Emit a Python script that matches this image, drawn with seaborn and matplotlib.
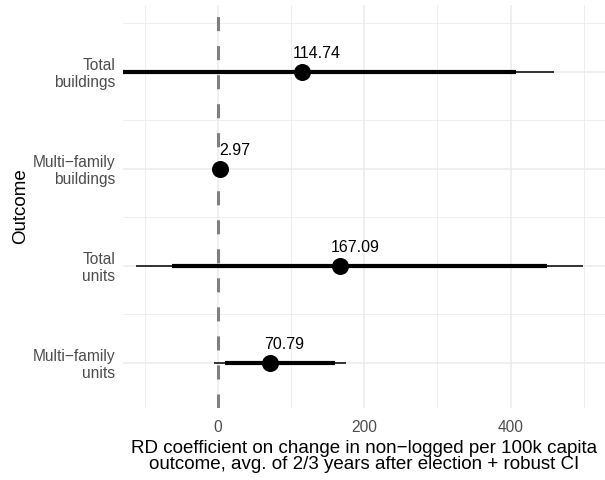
import numpy as np
import pandas as pd
import matplotlib
matplotlib.use("Agg")
import matplotlib.pyplot as plt
import seaborn as sns
from matplotlib.ticker import FixedLocator

# RD estimates with robust confidence intervals (90% thick, 95% thin)
outcomes = ["Total\nbuildings", "Multi\u2212family\nbuildings",
            "Total\nunits", "Multi\u2212family\nunits"]
estimates = [114.74, 2.97, 167.09, 70.79]
ci90_low = [-135.0, np.nan, -63.0, 9.6]
ci90_high = [408.0, np.nan, 450.0, 160.0]
ci95_low = [-187.0, np.nan, -112.0, -5.0]
ci95_high = [460.0, np.nan, 499.0, 174.5]
x_ticks = [0, 200, 400]

sns.set_theme(style="white")
plt.rcParams["font.family"] = ["Liberation Sans", "DejaVu Sans"]

df = pd.DataFrame({
    "outcome": outcomes,
    "estimate": estimates,
    "lo90": ci90_low, "hi90": ci90_high,
    "lo95": ci95_low, "hi95": ci95_high,
})
df["pos"] = np.arange(len(df))[::-1] + 1

fig = plt.figure(figsize=(6.05, 4.8), dpi=100)
ax = fig.add_axes([123 / 605, 72 / 480, 482 / 605, 403 / 480])

# grid
ax.set_xlim(-129.9, 529.2)
ax.set_ylim(0.536, 4.69)
ax.xaxis.set_major_locator(FixedLocator(x_ticks))
ax.xaxis.set_minor_locator(FixedLocator([-100, 100, 300, 500]))
ax.yaxis.set_major_locator(FixedLocator(df["pos"].tolist()))
ax.yaxis.set_minor_locator(FixedLocator([1.5, 2.5, 3.5, 4.5]))
ax.grid(which="major", color="#ebebeb", lw=1.1, zorder=0)
ax.grid(which="minor", color="#ebebeb", lw=0.6, zorder=0)
ax.set_axisbelow(True)
for s in ax.spines.values():
    s.set_visible(False)

# zero reference line
ax.axvline(0, color="#7f7f7f", lw=2.2, linestyle=(0, (4.6, 4.9)), zorder=1)

# confidence intervals
ci = df.dropna(subset=["lo95"])
ax.hlines(ci["pos"], ci["lo95"], ci["hi95"], color="black", lw=1.1, zorder=2)
ax.hlines(ci["pos"], ci["lo90"], ci["hi90"], color="black", lw=3.0, zorder=3)

# point estimates
sns.scatterplot(data=df, x="estimate", y="pos", color="black", s=150,
                edgecolor="black", linewidth=0, zorder=4, ax=ax, legend=False)

for _, r in df.iterrows():
    ax.text(r["estimate"] + 20, r["pos"] + 0.145, f"{r['estimate']:.2f}",
            ha="center", va="baseline", fontsize=11.5, color="black", zorder=5)

ax.set_yticks(df["pos"])
ax.set_yticklabels(df["outcome"], ha="right", linespacing=1.15)
ax.tick_params(axis="both", which="both", length=0, labelsize=11.2,
               labelcolor="#4d4d4d")
ax.tick_params(axis="x", pad=9)
ax.tick_params(axis="y", pad=5.5)

ax.set_xlabel("RD coefficient on change in non\u2212logged per 100k capita\n"
              "outcome, avg. of 2/3 years after election + robust CI",
              fontsize=13.5, color="black", linespacing=0.97, labelpad=3)
ax.set_ylabel("Outcome", fontsize=13.5, color="black")
ax.yaxis.set_label_coords(-0.195, 0.5)

fig.savefig("out.png", dpi=100)
